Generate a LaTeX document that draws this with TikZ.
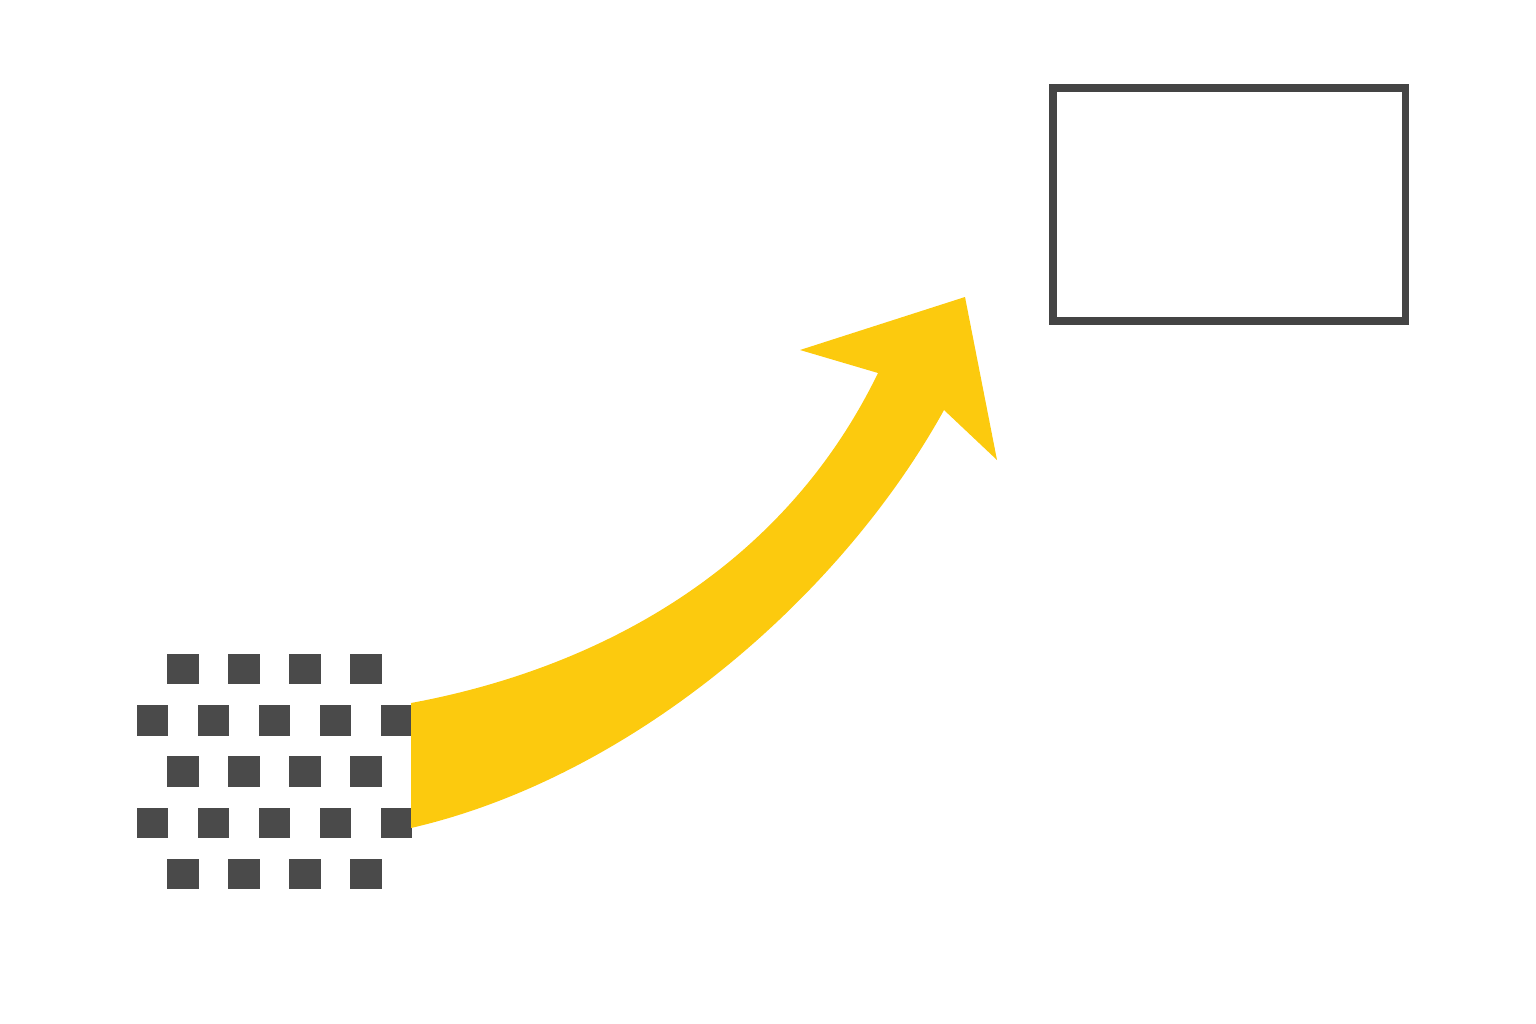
\documentclass[tikz,border=0pt]{standalone}
\usetikzlibrary{positioning}
\definecolor{cellgray}{RGB}{74,74,74}
\definecolor{framegray}{RGB}{68,68,68}
\definecolor{flowyellow}{RGB}{252,202,14}
\begin{document}
\begin{tikzpicture}[x=0.01cm, y=-0.01cm]
	\tikzset{
		cell/.style={rectangle, fill=cellgray, minimum width=0.31cm, minimum height=0.30cm, inner sep=0pt, outer sep=0pt},
		screenbox/.style={rectangle, draw=framegray, line width=0.075cm, minimum width=3.525cm, minimum height=2.33cm, inner sep=0pt},
		flowarrow/.style={fill=flowyellow, draw=none}
	}
	\useasboundingbox (0,0) rectangle (1536,1024);
	% cell grid, odd rows shifted right
	\foreach \r/\y in {1/669, 3/771.5, 5/873.5}
		\foreach \c in {1,...,4}
			\node[cell] (c\r\c) at ({183+61*(\c-1)},\y) {};
	\foreach \r/\y in {2/720.5, 4/822.5}
		\foreach \c in {1,...,5}
			\node[cell] (c\r\c) at ({152.5+61*(\c-1)},\y) {};

	\node[screenbox] (screen) at (1229.25,204.5) {};

	% curved arrow
	\coordinate (tailtop) at (411,703);
	\coordinate (tailbot) at (411,828);
	\coordinate (tip) at (965,297);
	\fill[flowarrow] (tailtop) .. controls (590,670) and (780,575) .. (878,373)
		-- (800,350) -- (tip) -- (997,460) -- (944,410)
		.. controls (840,598) and (632,777) .. (tailbot) -- cycle;
\end{tikzpicture}
\end{document}
